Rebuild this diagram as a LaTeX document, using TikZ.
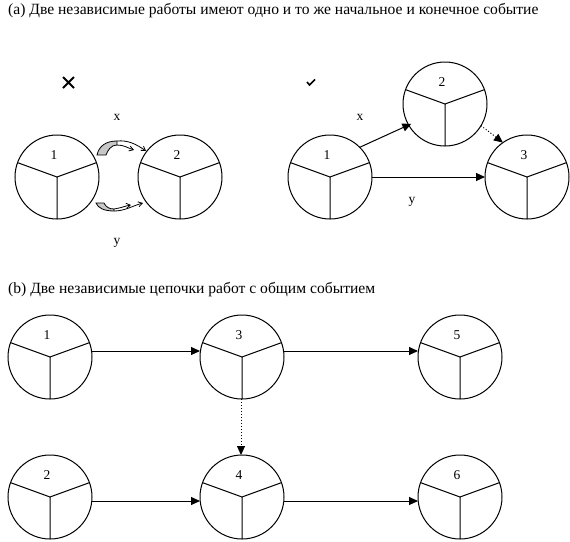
\documentclass[tikz,border=0pt]{standalone}
\usepackage{fontspec}
\setmainfont{Liberation Serif}
\usetikzlibrary{arrows.meta,calc}
\tikzset{
  evt/.style={circle,draw,line width=1pt,minimum size=84pt,inner sep=0pt,outer sep=0pt},
  num/.style={font=\fontsize{13.5}{13.5}\selectfont,inner sep=0pt},
  ttl/.style={font=\fontsize{15.6}{16}\selectfont,inner sep=0pt,anchor=base west},
  lab/.style={font=\fontsize{13.5}{13.5}\selectfont,inner sep=0pt},
  arr/.style={line width=1pt,-{Triangle[length=9pt,width=8pt]}},
  darr/.style={line width=1pt,dotted,-{Triangle[length=9pt,width=8pt]}},
  carr/.style={line width=0.8pt,-{Straight Barb[length=4pt,width=5pt]}},
  band/.style={fill=black!22,draw,line width=0.8pt},
  spoke/.style={line width=1pt}
}
\newcommand{\evtnode}[3]{%
  \node[evt] (#1) at (#2) {};
  \draw[spoke] (#1.center) -- (#1.20) (#1.center) -- (#1.160) (#1.center) -- (#1.270);
  \node[num] (#1n) at ([xshift=-3pt,yshift=22pt]#1.center) {#3};
}
\begin{document}
\begin{tikzpicture}[x=1pt,y=-1pt]
\useasboundingbox (0,0) rectangle (570,541);
% titles
\node[ttl] (ta) at (8,14) {(a) Две независимые работы имеют одно и то же начальное и конечное событие};
\node[ttl] (tb) at (8,293) {(b) Две независимые цепочки работ с общим событием};
% marks
\draw[line width=2pt] (63,77) -- (74,88) (63,88) -- (74,77);
\draw[line width=1.6pt] (307,82) -- (309.5,85) -- (315,79.5);
% (a) left
\evtnode{la}{57,177}{1}
\evtnode{lb}{180,177}{2}
\node[lab] (lx) at (117,117) {x};
\node[lab] (ly) at (117,243) {y};
% upper curved arrow
\path[band] (97,155) .. controls (99,146) and (106,141) .. (117,141) -- (117,145) .. controls (111,145) and (108,150) .. (106,155) -- cycle;
\draw[carr] (117,141) .. controls (128,140) and (136,144) .. (146,151);
\draw[carr] (117,145) .. controls (124,145) and (128,148) .. (134,150);
% lower curved arrow
\path[band] (96,203) -- (104,203) .. controls (106,207) and (109,209) .. (114,209) -- (114,211) .. controls (104,211) and (98,208) .. (96,203) -- cycle;
\draw[carr] (114,211) .. controls (125,211) and (132,206) .. (143,203);
\draw[carr] (114,209) .. controls (121,208) and (125,206) .. (131,205);
% (a) right
\evtnode{ra}{330,177}{1}
\evtnode{rb}{445,104}{2}
\evtnode{rc}{527,177}{3}
\draw[arr,shorten >=-3pt] (ra.45) -- (rb.210);
\draw[darr] (rb.-31) -- (rc.125);
\draw[arr] (ra.east) -- (rc.west);
\node[lab] (rx) at (360,117) {x};
\node[lab] (ry) at (412,202) {y};
% (b)
\evtnode{b1}{50,357}{1}
\evtnode{b3}{242,357}{3}
\evtnode{b5}{460,357}{5}
\evtnode{b2}{50,497}{2}
\evtnode{b4}{242,497}{4}
\evtnode{b6}{460,497}{6}
\draw[arr] ([yshift=6pt]b1.east) -- ([yshift=6pt]b3.west);
\draw[arr] ([yshift=6pt]b3.east) -- ([yshift=6pt]b5.west);
\draw[arr] ([yshift=-4pt]b2.east) -- ([yshift=-4pt]b4.west);
\draw[arr] ([yshift=-4pt]b4.east) -- ([yshift=-4pt]b6.west);
\draw[darr] ([xshift=-1pt]b3.south) -- ([xshift=-1pt]b4.north);
\end{tikzpicture}
\end{document}
